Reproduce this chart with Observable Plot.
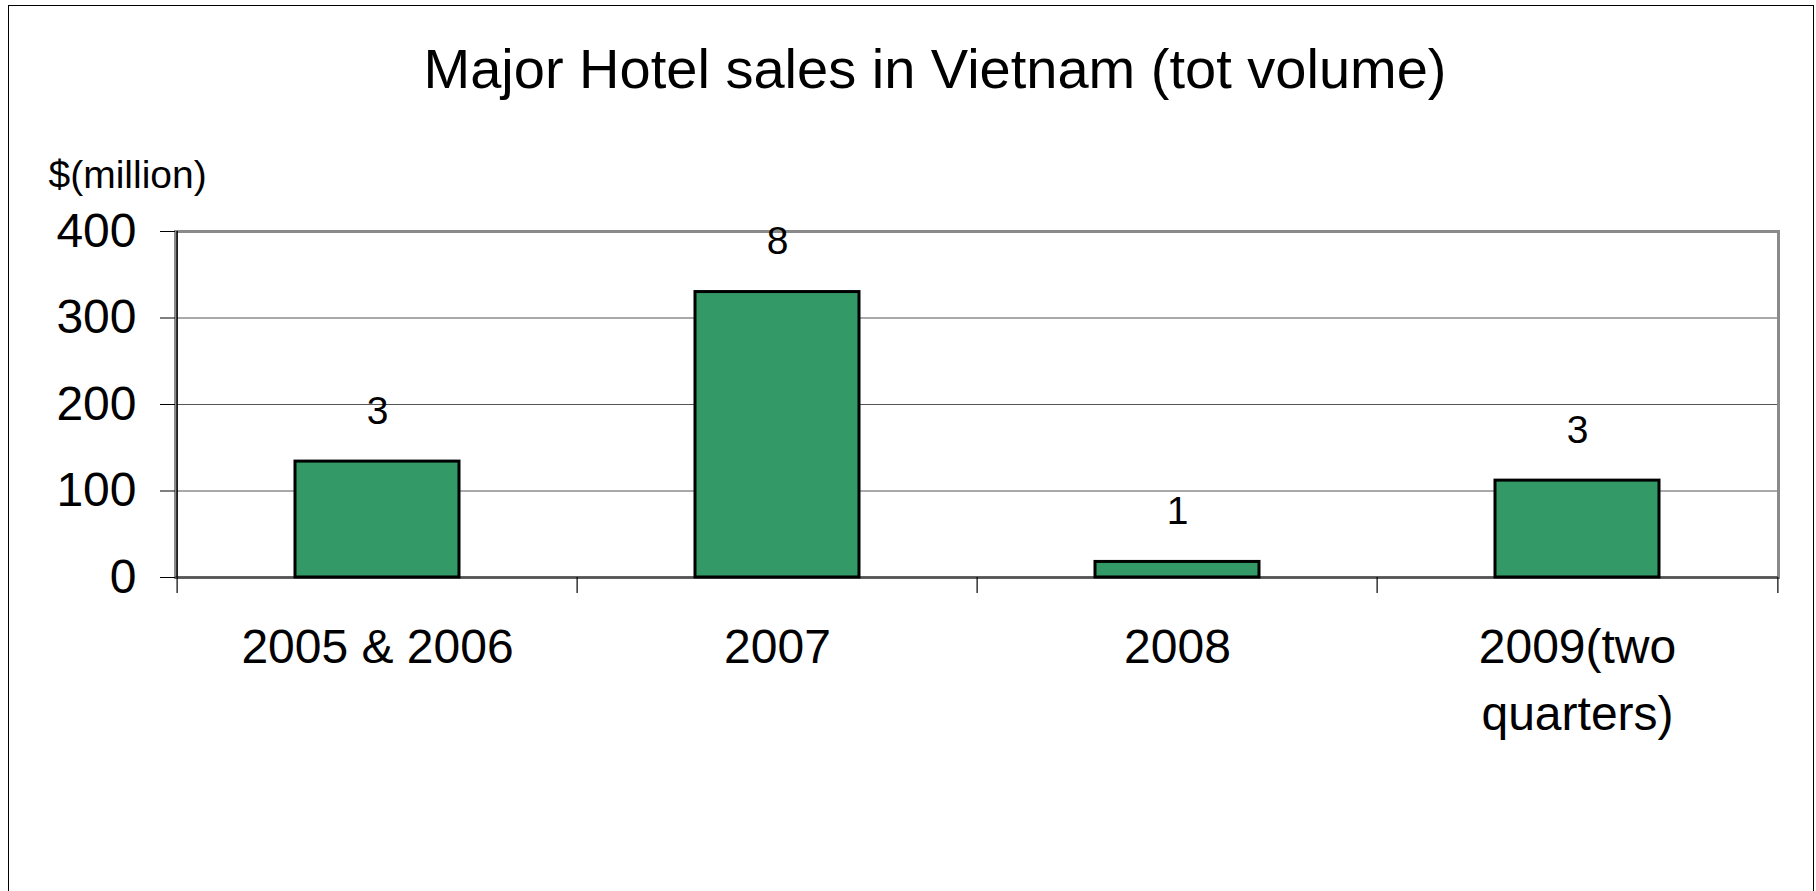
<!DOCTYPE html>
<html><head><meta charset="utf-8">
<script src="https://cdn.jsdelivr.net/npm/d3@7"></script>
<script src="https://cdn.jsdelivr.net/npm/@observablehq/plot@0.6"></script>
<style>
html,body{margin:0;padding:0;background:#fff;width:1816px;height:891px;overflow:hidden;font-family:"Liberation Sans",Arial,sans-serif;}
#page{position:relative;width:1816px;height:891px;}
#border{position:absolute;left:8px;top:5px;width:1804px;height:1000px;border:1.5px solid #000;pointer-events:none;z-index:2;}
#title{position:absolute;left:0;top:41px;width:1870px;text-align:center;font-size:56px;line-height:56px;color:#000;margin:0;font-weight:normal;}
#chart{position:absolute;left:0;top:130px;}
</style></head>
<body>
<div id="page">
  <h1 id="title"></h1>
  <div id="chart"></div>
  <div id="border"></div>
</div>
<script>
// ---- data ----
const titleText = "Major Hotel sales in Vietnam (tot volume)";
const yLabel = "$(million)";
const categories = ["2005 & 2006", "2007", "2008", "2009(two\nquarters)"];
const salesMillion = [134, 330, 18, 112];
const dealCounts = [3, 8, 1, 3];
const yTicks = [0, 100, 200, 300, 400];

document.getElementById("title").textContent = titleText;

const data = categories.map((c, i) => ({cat: c, value: salesMillion[i], count: dealCounts[i]}));

const W = 1816, H = 761, ml = 175, mr = 38, mt = 101, mb = 314;
const step = (W - ml - mr) / categories.length;
const font = '"Liberation Sans", Arial, sans-serif';

const chart = Plot.plot({
  width: W, height: H,
  marginLeft: ml, marginRight: mr, marginTop: mt, marginBottom: mb,
  style: {fontFamily: font, color: "#000", background: "transparent", overflow: "visible"},
  x: {domain: categories, paddingInner: 0.59, paddingOuter: 0.295, axis: null},
  y: {domain: [0, 400], axis: null},
  marks: [
    Plot.gridY(yTicks, {stroke: "#555", strokeOpacity: 1, strokeWidth: 1.2}),
    Plot.frame({stroke: "#8a8a8a", strokeWidth: 3}),
    Plot.ruleY([0], {stroke: "#555", strokeWidth: 2.5}),
    Plot.barY(data, {x: "cat", y: "value", fill: "#339966", stroke: "#000", strokeWidth: 3}),
    // y axis line
    Plot.ruleX([categories[0]], {x: d => d, y1: 0, y2: 400, dx: -step / 2, stroke: "#000", strokeWidth: 1.5}),
    // category boundary ticks
    Plot.ruleX(categories, {x: d => d, y1: 0, y2: 0, dx: -step / 2, insetBottom: -16, stroke: "#000", strokeWidth: 1.2}),
    Plot.ruleX([categories[categories.length - 1]], {x: d => d, y1: 0, y2: 0, dx: step / 2, insetBottom: -16, stroke: "#000", strokeWidth: 1.2}),
    Plot.axisY({ticks: yTicks, tickSize: 15, tickPadding: 24, fontSize: 48, label: null, tickFormat: d => String(d), stroke: "#000"}),
    Plot.axisX({tickSize: 0, tickPadding: 38, fontSize: 48, lineHeight: 1.4, label: null}),
    Plot.text(data, {x: "cat", y: "value", text: d => String(d.count), dy: -38, lineAnchor: "bottom", fontSize: 39}),
    Plot.text([yLabel], {frameAnchor: "top-left", text: d => d, dx: -127, dy: -44, textAnchor: "start", lineAnchor: "bottom", fontSize: 39})
  ]
});
document.getElementById("chart").appendChild(chart);
</script>
</body></html>
